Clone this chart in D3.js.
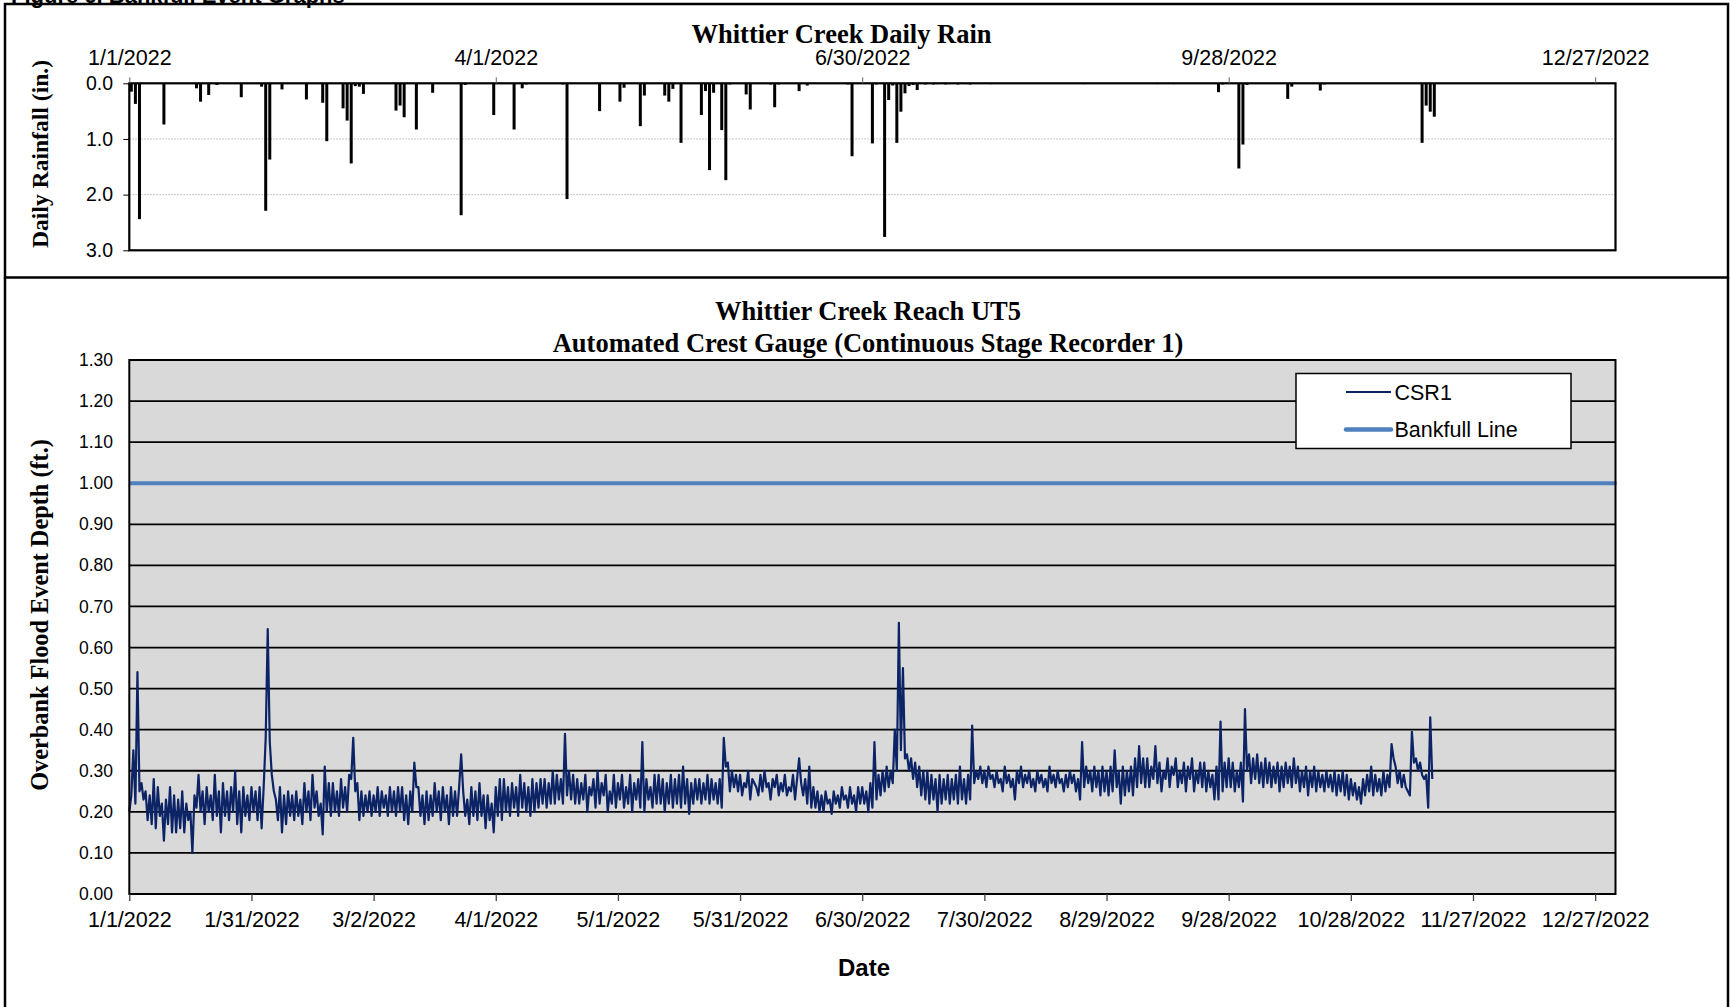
<!DOCTYPE html>
<html><head><meta charset="utf-8">
<script src="https://cdn.jsdelivr.net/npm/d3@7"></script>
<style>
html,body{margin:0;padding:0;background:#fff;}
svg{display:block;}
</style></head><body>
<svg id="c" width="1730" height="1007"></svg>
<script>
// ---------- DATA ----------
const rainDates = ["1/1/2022","1/2/2022","1/3/2022","1/9/2022","1/17/2022","1/18/2022","1/20/2022","1/22/2022","1/28/2022",
"2/2/2022","2/3/2022","2/4/2022","2/7/2022","2/13/2022","2/17/2022","2/18/2022","2/22/2022","2/23/2022","2/24/2022","2/25/2022","2/26/2022","2/27/2022",
"3/7/2022","3/8/2022","3/9/2022","3/12/2022","3/16/2022","3/23/2022","3/24/2022","3/31/2022",
"4/5/2022","4/7/2022","4/8/2022","4/17/2022","4/18/2022","4/26/2022",
"5/1/2022","5/2/2022","5/6/2022","5/7/2022","5/12/2022","5/13/2022","5/14/2022","5/16/2022","5/21/2022","5/22/2022","5/23/2022","5/24/2022","5/26/2022","5/27/2022","5/28/2022",
"6/1/2022","6/2/2022","6/7/2022","6/8/2022","6/9/2022","6/14/2022","6/16/2022","6/26/2022","6/27/2022",
"7/2/2022","7/3/2022","7/5/2022","7/6/2022","7/7/2022","7/8/2022","7/9/2022","7/10/2022","7/11/2022","7/12/2022","7/13/2022","7/15/2022","7/17/2022","7/18/2022","7/20/2022","7/21/2022","7/23/2022","7/25/2022","7/26/2022","7/31/2022",
"8/23/2022","9/10/2022","9/14/2022","9/25/2022","9/26/2022","9/30/2022","10/1/2022","10/2/2022","10/12/2022","10/13/2022","10/20/2022","10/21/2022",
"11/14/2022","11/15/2022","11/16/2022","11/17/2022"];
const rainValues = [0.15,0.37,2.44,0.74,0.09,0.33,0.21,0.03,0.25,
0.06,2.29,1.37,0.11,0.29,0.35,1.04,0.45,0.67,1.44,0.05,0.06,0.19,
0.49,0.40,0.61,0.83,0.17,2.37,0.03,0.57,
0.83,0.09,0.02,0.02,2.08,0.50,
0.33,0.08,0.77,0.22,0.22,0.33,0.10,1.07,0.57,0.14,1.56,0.17,0.84,1.74,0.02,
0.20,0.47,0.02,0.43,0.02,0.14,0.04,0.02,1.31,
1.08,0.02,2.76,0.30,0.04,1.07,0.51,0.18,0.05,0.03,0.12,0.02,0.02,0.01,0.02,0.01,0.02,0.01,0.02,0.01,
0.01,0.01,0.01,0.16,0.02,1.53,1.10,0.03,0.28,0.06,0.13,0.02,
1.07,0.40,0.51,0.60];
const rainTickLabels = ["1/1/2022","4/1/2022","6/30/2022","9/28/2022","12/27/2022"];
const rainYTicks = [0,1,2,3];

// CSR1 readings every 12 hours from 1/1/2022 00:00
const csrStartDate = "1/1/2022";
const csrStepHours = 12;
const csr1Values = [
0.20,0.24,0.35,0.22,0.54,0.25,0.27,0.23,0.25,0.18,0.24,0.17,0.28,0.16,0.26,0.19,0.22,0.13,0.23,0.17,
0.26,0.15,0.24,0.15,0.23,0.16,0.25,0.15,0.22,0.18,0.20,0.10,0.24,0.21,0.29,0.20,0.25,0.17,0.26,0.20,
0.24,0.18,0.29,0.19,0.25,0.15,0.27,0.19,0.25,0.18,0.26,0.20,0.30,0.17,0.25,0.15,0.26,0.19,0.24,0.18,
0.26,0.20,0.25,0.18,0.26,0.16,0.26,0.38,0.645,0.37,0.29,0.25,0.23,0.18,0.26,0.15,0.24,0.17,0.25,0.19,
0.24,0.18,0.25,0.19,0.23,0.17,0.27,0.20,0.25,0.18,0.29,0.21,0.25,0.19,0.22,0.145,0.31,0.20,0.27,0.19,
0.27,0.20,0.25,0.19,0.28,0.21,0.26,0.20,0.29,0.28,0.38,0.25,0.27,0.18,0.25,0.19,0.24,0.20,0.25,0.19,
0.24,0.20,0.26,0.19,0.25,0.21,0.24,0.19,0.26,0.20,0.25,0.19,0.26,0.20,0.26,0.18,0.24,0.17,0.25,0.20,
0.32,0.26,0.26,0.19,0.24,0.17,0.25,0.18,0.24,0.19,0.27,0.20,0.25,0.18,0.26,0.20,0.24,0.17,0.26,0.19,
0.25,0.19,0.26,0.34,0.25,0.19,0.23,0.17,0.26,0.19,0.25,0.18,0.27,0.19,0.24,0.16,0.24,0.18,0.22,0.15,
0.26,0.19,0.28,0.18,0.28,0.20,0.26,0.19,0.27,0.21,0.26,0.19,0.29,0.21,0.27,0.20,0.26,0.19,0.28,0.20,
0.27,0.21,0.28,0.22,0.28,0.21,0.27,0.22,0.30,0.22,0.29,0.23,0.28,0.22,0.39,0.24,0.30,0.23,0.29,0.22,
0.28,0.22,0.27,0.23,0.29,0.20,0.26,0.24,0.28,0.21,0.30,0.22,0.27,0.24,0.29,0.20,0.25,0.22,0.29,0.21,
0.27,0.23,0.29,0.21,0.26,0.22,0.29,0.20,0.27,0.23,0.28,0.21,0.37,0.20,0.28,0.23,0.26,0.21,0.29,0.22,
0.29,0.22,0.28,0.20,0.27,0.22,0.29,0.21,0.28,0.22,0.29,0.21,0.31,0.22,0.28,0.195,0.27,0.22,0.28,0.23,
0.28,0.22,0.27,0.23,0.29,0.22,0.28,0.23,0.27,0.22,0.28,0.21,0.38,0.31,0.32,0.25,0.30,0.26,0.29,0.25,
0.29,0.24,0.27,0.26,0.30,0.23,0.28,0.27,0.26,0.24,0.29,0.25,0.30,0.26,0.27,0.23,0.28,0.26,0.29,0.24,
0.27,0.25,0.29,0.24,0.26,0.25,0.29,0.23,0.28,0.33,0.27,0.24,0.28,0.22,0.31,0.21,0.26,0.21,0.25,0.20,
0.24,0.20,0.25,0.22,0.23,0.195,0.25,0.22,0.24,0.21,0.26,0.23,0.24,0.21,0.26,0.22,0.24,0.20,0.26,0.22,
0.26,0.22,0.25,0.20,0.27,0.21,0.37,0.23,0.29,0.24,0.30,0.25,0.31,0.26,0.30,0.27,0.40,0.30,0.66,0.35,
0.55,0.33,0.34,0.30,0.33,0.28,0.32,0.26,0.31,0.24,0.30,0.23,0.30,0.22,0.29,0.23,0.28,0.20,0.29,0.22,
0.28,0.23,0.29,0.22,0.28,0.23,0.29,0.22,0.31,0.23,0.28,0.22,0.29,0.23,0.41,0.27,0.30,0.28,0.31,0.27,
0.30,0.26,0.31,0.28,0.29,0.26,0.30,0.27,0.28,0.25,0.31,0.27,0.29,0.26,0.28,0.23,0.30,0.27,0.31,0.26,
0.29,0.27,0.30,0.26,0.28,0.25,0.30,0.27,0.29,0.26,0.28,0.25,0.31,0.27,0.29,0.26,0.30,0.27,0.28,0.25,
0.29,0.26,0.30,0.27,0.29,0.25,0.28,0.23,0.37,0.26,0.31,0.27,0.30,0.25,0.31,0.26,0.30,0.24,0.31,0.25,
0.30,0.24,0.31,0.25,0.35,0.26,0.30,0.22,0.31,0.24,0.30,0.25,0.31,0.24,0.33,0.26,0.36,0.27,0.33,0.26,
0.33,0.26,0.31,0.28,0.36,0.27,0.32,0.25,0.30,0.28,0.33,0.26,0.31,0.29,0.33,0.26,0.30,0.27,0.32,0.25,
0.31,0.28,0.33,0.25,0.30,0.27,0.32,0.26,0.32,0.25,0.30,0.26,0.29,0.23,0.31,0.23,0.42,0.25,0.32,0.26,
0.33,0.26,0.32,0.25,0.30,0.26,0.32,0.225,0.45,0.30,0.34,0.27,0.33,0.28,0.34,0.27,0.32,0.26,0.33,0.27,
0.32,0.26,0.31,0.27,0.32,0.25,0.31,0.26,0.32,0.27,0.31,0.26,0.33,0.27,0.31,0.25,0.30,0.26,0.31,0.24,
0.30,0.26,0.31,0.25,0.30,0.26,0.29,0.25,0.30,0.26,0.29,0.25,0.30,0.24,0.29,0.25,0.30,0.24,0.29,0.23,
0.28,0.24,0.27,0.23,0.26,0.22,0.28,0.24,0.29,0.25,0.31,0.24,0.29,0.25,0.28,0.24,0.30,0.25,0.29,0.26,
0.365,0.33,0.31,0.27,0.30,0.26,0.29,0.26,0.25,0.24,0.395,0.32,0.33,0.30,0.32,0.29,0.28,0.29,0.21,0.43,
0.28];
const bankfullValue = 1.0;
const depthTickLabels = ["1/1/2022","1/31/2022","3/2/2022","4/1/2022","5/1/2022","5/31/2022","6/30/2022","7/30/2022","8/29/2022","9/28/2022","10/28/2022","11/27/2022","12/27/2022"];
const depthYTicks = [0,0.1,0.2,0.3,0.4,0.5,0.6,0.7,0.8,0.9,1.0,1.1,1.2,1.3];
const seriesNames = ["CSR1","Bankfull Line"];

// ---------- STYLE ----------
const SANS = "'Liberation Sans', Arial, sans-serif";
const SERIF = "'Liberation Serif', 'Times New Roman', serif";
const parse = d3.utcParse("%m/%d/%Y");
const fmt = d3.utcFormat("%-m/%-d/%Y");
const svg = d3.select("#c");

const PL = 129.3, PR = 1615.5;
const x = d3.scaleUtc().domain([parse("1/1/2022"), parse("1/1/2023")]).range([PL, PR]);
const halfDay = (x(parse("1/2/2022")) - x(parse("1/1/2022"))) / 2;

// Panel frames
svg.append("text").attr("x", 11).attr("y", 2.5).attr("font-family", SANS).attr("font-weight", "bold")
  .attr("font-size", 22).text("Figure 6. Bankfull Event Graphs");
svg.append("rect").attr("x", 5).attr("y", 4).attr("width", 1723).attr("height", 273.5)
  .attr("fill", "none").attr("stroke", "#000").attr("stroke-width", 2.5);
svg.append("path").attr("d", "M5,277.5V1010M1728,277.5V1010").attr("stroke", "#000").attr("stroke-width", 2.5);

// ---------- TOP: RAIN ----------
const yR = d3.scaleLinear().domain([0, 3]).range([83.3, 250.3]);
const topG = svg.append("g");
topG.append("g").selectAll("line").data([1, 2]).join("line")
  .attr("x1", PL).attr("x2", PR).attr("y1", d => yR(d)).attr("y2", d => yR(d))
  .attr("stroke", "#b5b5b5").attr("stroke-width", 1).attr("stroke-dasharray", "1.5,1.5");
const rain = rainDates.map((d, i) => ({ date: parse(d), v: rainValues[i] }));
topG.append("g").selectAll("rect").data(rain).join("rect")
  .attr("x", d => x(d.date) + halfDay - 1.5).attr("width", 3)
  .attr("y", yR(0)).attr("height", d => Math.max(0.8, yR(d.v) - yR(0)))
  .attr("fill", "#000");
topG.append("rect").attr("x", PL).attr("y", yR(0)).attr("width", PR - PL).attr("height", yR(3) - yR(0))
  .attr("fill", "none").attr("stroke", "#000").attr("stroke-width", 2.2);
const xTop = topG.append("g").attr("transform", `translate(0,${yR(0)})`)
  .call(d3.axisTop(x).tickValues(rainTickLabels.map(parse)).tickFormat(fmt).tickSize(6).tickSizeOuter(0).tickPadding(12.3));
xTop.select(".domain").remove();
xTop.selectAll("line").attr("stroke", "#666");
xTop.selectAll("text").attr("font-family", SANS).attr("font-size", 21.5).attr("fill", "#000");
const yTop = topG.append("g").attr("transform", `translate(${PL},0)`)
  .call(d3.axisLeft(yR).tickValues(rainYTicks).tickFormat(d3.format(".1f")).tickSize(6).tickSizeOuter(0).tickPadding(10.3));
yTop.select(".domain").remove();
yTop.selectAll("line").attr("stroke", "#000");
yTop.selectAll("text").attr("font-family", SANS).attr("font-size", 19.5).attr("fill", "#000");
topG.append("text").attr("x", 841.5).attr("y", 43).attr("text-anchor", "middle")
  .attr("font-family", SERIF).attr("font-weight", "bold").attr("font-size", 26.5).text("Whittier Creek Daily Rain");
topG.append("text").attr("transform", "translate(47.5,154) rotate(-90)").attr("text-anchor", "middle")
  .attr("font-family", SERIF).attr("font-weight", "bold").attr("font-size", 23.6).text("Daily Rainfall (in.)");

// ---------- BOTTOM: DEPTH ----------
const yD = d3.scaleLinear().domain([0, 1.3]).range([894, 360]);
const bot = svg.append("g");
bot.append("rect").attr("x", PL).attr("y", yD(1.3)).attr("width", PR - PL).attr("height", yD(0) - yD(1.3))
  .attr("fill", "#d9d9d9");
bot.append("g").selectAll("line").data(depthYTicks.slice(1, -1)).join("line")
  .attr("x1", PL).attr("x2", PR).attr("y1", d => yD(d)).attr("y2", d => yD(d))
  .attr("stroke", "#000").attr("stroke-width", 1.8);
bot.append("line").attr("x1", PL).attr("x2", PR + 1).attr("y1", yD(bankfullValue)).attr("y2", yD(bankfullValue))
  .attr("stroke", "#4f81bd").attr("stroke-width", 4.2);
const start = parse(csrStartDate);
const csr = csr1Values.map((v, i) => ({ date: d3.utcHour.offset(start, i * csrStepHours), v }));
bot.append("path").datum(csr)
  .attr("d", d3.line().x(d => x(d.date)).y(d => yD(d.v)))
  .attr("fill", "none").attr("stroke", "#0c2466").attr("stroke-width", 2.2).attr("stroke-linejoin", "round");
bot.append("rect").attr("x", PL).attr("y", yD(1.3)).attr("width", PR - PL).attr("height", yD(0) - yD(1.3))
  .attr("fill", "none").attr("stroke", "#000").attr("stroke-width", 2);
const xBot = bot.append("g").attr("transform", `translate(0,${yD(0)})`)
  .call(d3.axisBottom(x).tickValues(depthTickLabels.map(parse)).tickFormat(fmt).tickSize(7).tickSizeOuter(0).tickPadding(11));
xBot.select(".domain").remove();
xBot.selectAll("line").attr("stroke", "#444").attr("stroke-width", 1.3);
xBot.selectAll("text").attr("font-family", SANS).attr("font-size", 21.5).attr("fill", "#000");
const yBot = bot.append("g").attr("transform", `translate(${PL},0)`)
  .call(d3.axisLeft(yD).tickValues(depthYTicks).tickFormat(d3.format(".2f")).tickSize(0).tickPadding(16.3));
yBot.select(".domain").remove();
yBot.selectAll("text").attr("font-family", SANS).attr("font-size", 17.5).attr("fill", "#000");
bot.append("text").attr("x", 868).attr("y", 319.5).attr("text-anchor", "middle")
  .attr("font-family", SERIF).attr("font-weight", "bold").attr("font-size", 26.5).text("Whittier Creek Reach UT5");
bot.append("text").attr("x", 868).attr("y", 351.5).attr("text-anchor", "middle")
  .attr("font-family", SERIF).attr("font-weight", "bold").attr("font-size", 26.5).text("Automated Crest Gauge (Continuous Stage Recorder 1)");
bot.append("text").attr("transform", "translate(47.5,615) rotate(-90)").attr("text-anchor", "middle")
  .attr("font-family", SERIF).attr("font-weight", "bold").attr("font-size", 24.3).text("Overbank Flood Event Depth (ft.)");
bot.append("text").attr("x", 864).attr("y", 976).attr("text-anchor", "middle")
  .attr("font-family", SANS).attr("font-weight", "bold").attr("font-size", 24).text("Date");
const lg = bot.append("g");
lg.append("rect").attr("x", 1296).attr("y", 373.5).attr("width", 275).attr("height", 75)
  .attr("fill", "#fff").attr("stroke", "#000").attr("stroke-width", 1.5);
const legendStyles = [{ c: "#0c2466", w: 2, y: 392 }, { c: "#4f81bd", w: 4.5, y: 429.5 }];
seriesNames.forEach((n, i) => {
  const s = legendStyles[i];
  lg.append("line").attr("x1", 1346).attr("x2", 1391).attr("y1", s.y).attr("y2", s.y)
    .attr("stroke", s.c).attr("stroke-width", s.w).attr("stroke-linecap", i ? "round" : "butt");
  lg.append("text").attr("x", 1394.5).attr("y", s.y).attr("dy", "0.35em")
    .attr("font-family", SANS).attr("font-size", 21.5).text(n);
});
</script>
</body></html>
